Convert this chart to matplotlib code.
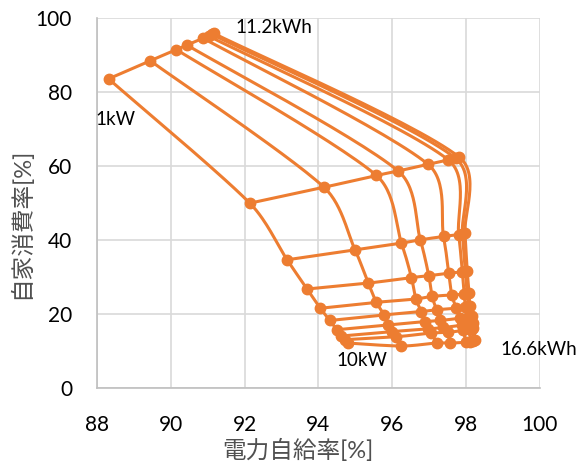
"""Self-sufficiency vs self-consumption grid chart (PV power x battery size)."""
import numpy as np
import matplotlib
matplotlib.use("Agg")
import matplotlib.pyplot as plt

plt.rcParams['font.family'] = ['Lato', 'Noto Sans CJK JP', 'DejaVu Sans']

ORANGE = '#ED7D31'
GRID = '#D9D9D9'

# one list per PV power level (1kW .. 10kW), values across battery sizes
power_kw = [1, 2, 3, 4, 5, 6, 7, 8, 9, 10]

suff_1kw = [88.31, 89.44, 90.15, 90.44, 90.87, 91.02, 91.12, 91.16]
cons_1kw = [83.6, 88.5, 91.5, 92.7, 94.6, 95.2, 95.6, 95.9]
suff_2kw = [92.14, 94.15, 95.57, 96.16, 96.97, 97.52, 97.72, 97.82]
cons_2kw = [50.0, 54.3, 57.5, 58.7, 60.5, 61.7, 62.1, 62.4]
suff_3kw = [93.15, 94.99, 96.25, 96.76, 97.39, 97.80, 97.90, 97.97]
cons_3kw = [34.7, 37.4, 39.2, 40.1, 41.0, 41.5, 41.7, 41.9]
suff_4kw = [93.69, 95.35, 96.52, 96.99, 97.53, 97.90, 97.98, 98.03]
cons_4kw = [26.8, 28.4, 29.9, 30.4, 31.1, 31.4, 31.6, 31.8]
suff_5kw = [94.05, 95.57, 96.64, 97.08, 97.61, 97.95, 98.03, 98.08]
cons_5kw = [21.6, 23.2, 24.1, 24.8, 25.2, 25.4, 25.6, 25.8]
suff_6kw = [94.31, 95.78, 96.79, 97.20, 97.74, 97.98, 98.06, 98.10]
cons_6kw = [18.3, 19.8, 20.7, 21.2, 21.6, 21.9, 22.1, 22.3]
suff_7kw = [94.50, 95.89, 96.89, 97.30, 97.84, 98.02, 98.10, 98.15]
cons_7kw = [15.8, 17.1, 18.0, 18.3, 18.9, 19.1, 19.3, 19.5]
suff_8kw = [94.62, 96.00, 96.97, 97.38, 97.88, 98.05, 98.12, 98.18]
cons_8kw = [14.1, 15.3, 16.0, 16.4, 17.0, 17.3, 17.5, 17.7]
suff_9kw = [94.71, 96.11, 97.06, 97.50, 97.92, 98.08, 98.15, 98.20]
cons_9kw = [13.1, 13.9, 14.9, 15.1, 15.6, 15.9, 16.1, 16.3]
suff_10kw = [94.80, 96.25, 97.20, 97.56, 98.00, 98.12, 98.20, 98.25]
cons_10kw = [12.2, 11.4, 12.2, 12.2, 12.4, 12.6, 12.8, 13.0]

suff = np.array([suff_1kw, suff_2kw, suff_3kw, suff_4kw, suff_5kw,
                 suff_6kw, suff_7kw, suff_8kw, suff_9kw, suff_10kw])
cons = np.array([cons_1kw, cons_2kw, cons_3kw, cons_4kw, cons_5kw,
                 cons_6kw, cons_7kw, cons_8kw, cons_9kw, cons_10kw])


def _limit(v, seg, k=0.35):
    # keep control handles from overshooting short segments
    n = np.hypot(*v)
    lim = k * np.hypot(*seg)
    return v if n <= lim or n == 0 else v * lim / n


def smooth(ax, xs, ys, n=30):
    """Excel-like smoothed line: cubic Bezier through points, done in pixel space."""
    pts = ax.transData.transform(np.column_stack([xs, ys]))
    out = [pts[0]]
    for i in range(len(pts) - 1):
        p0 = pts[max(i - 1, 0)]
        p1 = pts[i]
        p2 = pts[i + 1]
        p3 = pts[min(i + 2, len(pts) - 1)]
        c1 = p1 + _limit((p2 - p0) / 6, p2 - p1)
        c2 = p2 - _limit((p3 - p1) / 6, p2 - p1)
        t = np.linspace(0, 1, n)[1:, None]
        seg = ((1 - t) ** 3 * p1 + 3 * (1 - t) ** 2 * t * c1
               + 3 * (1 - t) * t ** 2 * c2 + t ** 3 * p2)
        out.extend(seg)
    out = ax.transData.inverted().transform(np.array(out))
    return out[:, 0], out[:, 1]


fig = plt.figure(figsize=(5.78, 4.66), dpi=100)
ax = fig.add_axes([0.168, 0.167, 0.766, 0.794])
ax.set_xlim(88, 100)
ax.set_ylim(0, 100)
ax.set_xticks(np.arange(88, 101, 2))
ax.set_yticks(np.arange(0, 101, 20))
ax.grid(True, color=GRID, linewidth=1.2)
ax.set_axisbelow(True)
for side in ['top', 'right']:
    ax.spines[side].set_visible(False)
for side in ['left', 'bottom']:
    ax.spines[side].set_color('#BFBFBF')
    ax.spines[side].set_linewidth(1.2)
ax.tick_params(length=0, labelsize=15, pad=0)
ax.tick_params(axis='x', pad=19)
ax.tick_params(axis='y', pad=18)

# lines along battery size (rows) and along PV power (columns)
for r in range(suff.shape[0]):
    lx, ly = smooth(ax, suff[r], cons[r])
    ax.plot(lx, ly, color=ORANGE, lw=2.2, zorder=2)
for c in range(suff.shape[1]):
    lx, ly = smooth(ax, suff[:, c], cons[:, c])
    ax.plot(lx, ly, color=ORANGE, lw=2.2, zorder=2)
ax.plot(suff.ravel(), cons.ravel(), 'o', color=ORANGE, ms=7.5, zorder=3)

ax.text(91.74, 97.4, '11.2kWh', fontsize=13.5, va='center', ha='left')
ax.text(87.95, 72.5, '1kW', fontsize=13.5, va='center', ha='left')
ax.text(94.5, 7.6, '10kW', fontsize=13.5, va='center', ha='left')
ax.text(98.92, 10.4, '16.6kWh', fontsize=13.5, va='center', ha='left', clip_on=False)

ax.set_xlabel('電力自給率[%]', fontsize=17, color='#505050')
ax.set_ylabel('自家消費率[%]', fontsize=17, color='#505050')
ax.xaxis.set_label_coords(0.454, -0.136)
ax.yaxis.set_label_coords(-0.146, 0.446)

fig.savefig('out.png', dpi=100)
